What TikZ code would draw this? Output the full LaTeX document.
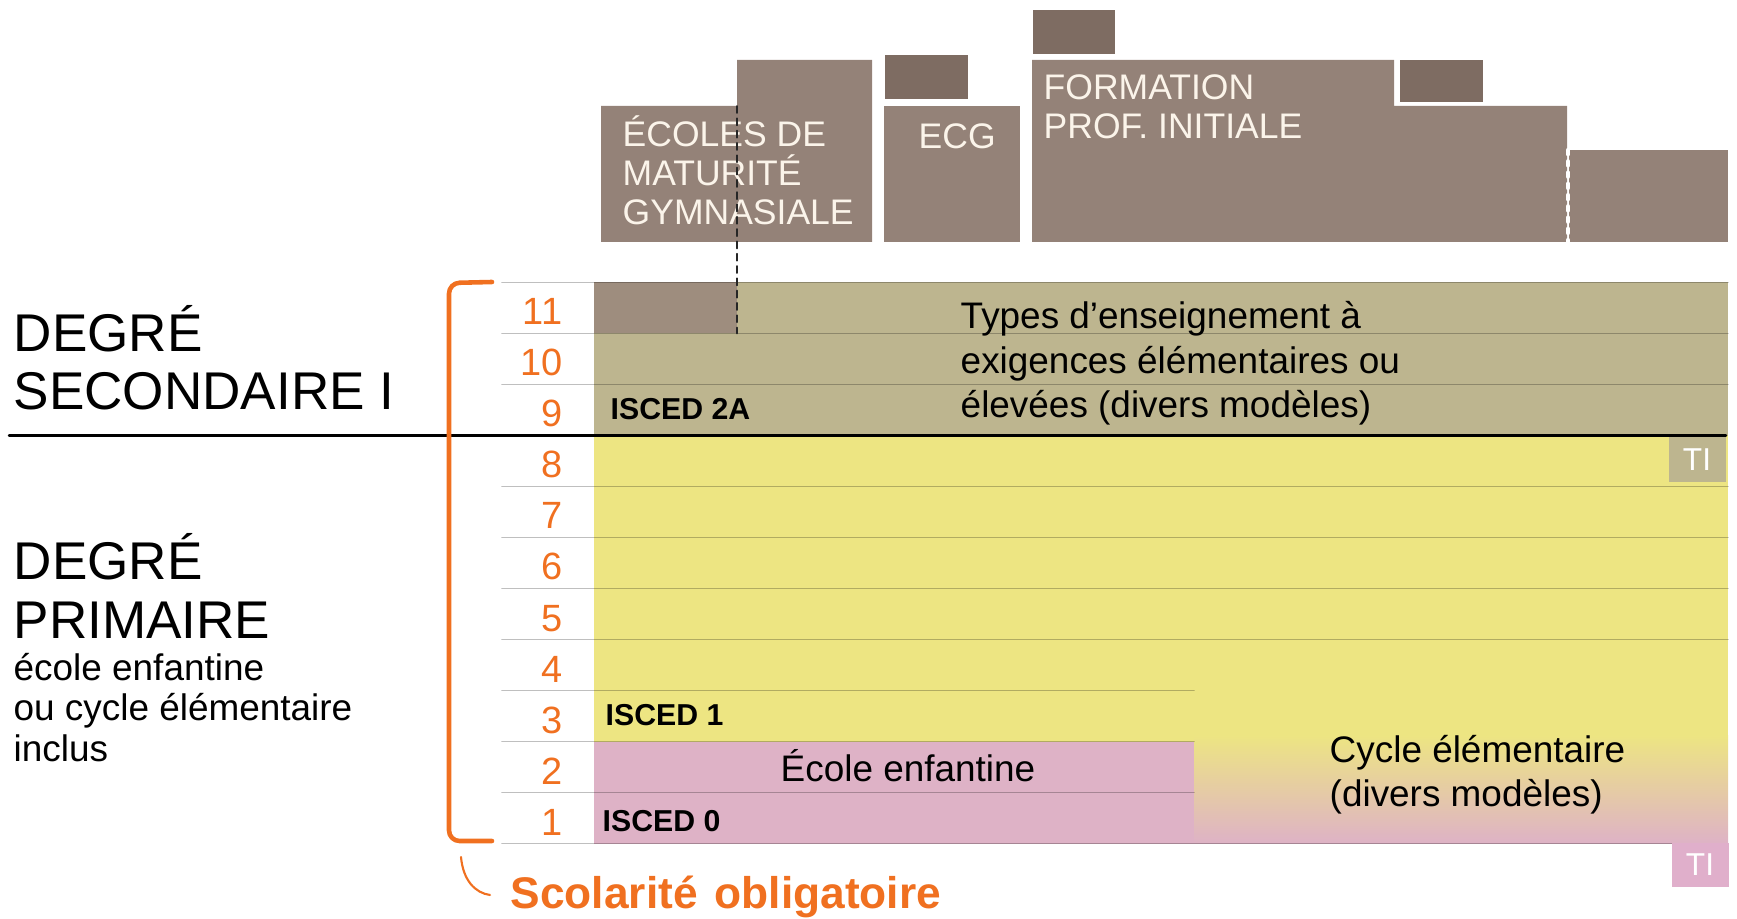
\documentclass[tikz,border=0pt]{standalone}
\usepackage{fontspec}
\setmainfont{Liberation Sans}
\usepackage{tikz}
\definecolor{brownbox}{HTML}{948278}
\definecolor{browndark}{HTML}{7E6C62}
\definecolor{brownrow}{HTML}{9E8D7E}
\definecolor{olive}{HTML}{BDB58F}
\definecolor{yell}{HTML}{EDE582}
\definecolor{pinkfill}{HTML}{DEB2C6}
\definecolor{pinkti}{HTML}{E0AFCB}
\definecolor{orangeline}{HTML}{F07020}
\definecolor{cream}{HTML}{FBF4EA}
\tikzset{
  bigtext/.style={anchor=base west,inner sep=0pt,align=left,font=\fontsize{15.1}{16.5}\selectfont},
  bodytext/.style={anchor=base west,inner sep=0pt,align=left,font=\fontsize{10.5}{11.4}\selectfont},
  boxtext/.style={anchor=base west,inner sep=0pt,align=left,text=cream,font=\fontsize{10.1}{11.1}\selectfont},
  rownum/.style={anchor=base east,inner sep=0pt,text=orangeline,font=\fontsize{10.8}{12}\selectfont},
  isced/.style={anchor=base west,inner sep=0pt,font=\bfseries\fontsize{8.6}{10}\selectfont},
  tibox/.style={minimum width=0.57cm,minimum height=0.44cm,inner sep=0pt,text=white,font=\fontsize{9}{10}\selectfont},
  gridline/.style={draw=black,draw opacity=0.25,line width=0.5pt}
}

\begin{document}
\begin{tikzpicture}[line cap=round,line join=round,x=0.01cm,y=-0.01cm]
\useasboundingbox (0,0) rectangle (1737,919);
\fill[brownbox] (601,106) -- (737,106) -- (737,60) -- (872,60) -- (872,242) -- (601,242) -- cycle;
\fill[browndark] (885,55) rectangle (968,99);
\fill[brownbox] (884,106) rectangle (1020,242);
\fill[browndark] (1033,10) rectangle (1115,54);
\fill[brownbox] (1032,60) -- (1394,60) -- (1394,106) -- (1567,106) -- (1567,242) -- (1032,242) -- cycle;
\fill[browndark] (1400,60) rectangle (1483,102);
\fill[brownbox] (1569,150) rectangle (1728,242);
\draw[white,line width=1.2pt,dotted] (1568,150) -- (1568,242);
\node[boxtext] (ecoles) at (622,225) {ÉCOLES DE\\MATURITÉ\\GYMNASIALE};
\node[boxtext] (ecg) at (918,149) {ECG};
\node[boxtext] (fpi) at (1043,139) {FORMATION\\PROF. INITIALE};
\fill[olive] (594,282.5) rectangle (1728,435.5);
\fill[brownrow] (594,282.5) rectangle (737,333.5);
\fill[yell] (594,435.5) rectangle (1728,690.5);
\fill[yell] (594,690.5) rectangle (1194,741.5);
\fill[pinkfill] (594,741.5) rectangle (1194,843.5);
\fill[yell] (1194,690.5) rectangle (1728,735);
\shade[top color=yell,bottom color=pinkfill] (1194,735) rectangle (1728,843.5);
\foreach \y in {282.5,333.5,384.5,486.5,537.5,588.5,639.5,843.5}
  \draw[gridline] (502,\y) -- (1728,\y);
\foreach \y in {690.5,741.5,792.5}
  \draw[gridline] (502,\y) -- (1194,\y);
\draw[line width=0.7pt] (9,435.5) -- (1726,435.5);
\coordinate (splittop) at (737,106);
\coordinate (splitbot) at (737,333.5);
\draw[dash pattern=on 2pt off 1.5pt,line width=0.5pt,black!85] (splittop) -- (splitbot);
\foreach \n in {1,...,11}
  \node[rownum] (num\n) at (563,{886-51*\n}) {\n};
\node[isced] (isceda) at (610,420) {ISCED 2A};
\node[isced] (iscedb) at (605,725) {ISCED 1};
\node[isced] (iscedc) at (602,831) {ISCED 0};
\node[bodytext,font=\fontsize{10.5}{12.7}\selectfont] (types) at (960,418) {Types d’enseignement à\\exigences élémentaires ou\\élevées (divers modèles)};
\node[bodytext,anchor=base] (enfantine) at (908,781) {École enfantine};
\node[bodytext,font=\fontsize{10.5}{12.5}\selectfont] (cycle) at (1329,806) {Cycle élémentaire\\(divers modèles)};
\node[tibox,fill=olive] (tisec) at (1697,459.5) {TI};
\node[tibox,fill=pinkti] (tiprim) at (1700,865) {TI};
\node[bigtext] (secondaire) at (13,410) {DEGRÉ\\SECONDAIRE I};
\node[bigtext] (primaire) at (13,638) {DEGRÉ\\PRIMAIRE};
\node[bodytext,font=\fontsize{10.5}{11.5}\selectfont] (inclus) at (13,761) {école enfantine\\ou cycle élémentaire\\inclus};
\draw[orangeline,line width=1.3pt,rounded corners=3pt] (492,282) -- (449,283) -- (449,841) -- (492,841);
\draw[orangeline,line width=0.6pt] (461,857) .. controls (463,880) and (475,893) .. (490,895);
\node[anchor=base west,inner sep=0pt,text=orangeline,font=\bfseries\fontsize{12.6}{13}\selectfont] (oblig) at (510,908) {Scolarité\hspace{0.1em} obligatoire};
\end{tikzpicture}
\end{document}
